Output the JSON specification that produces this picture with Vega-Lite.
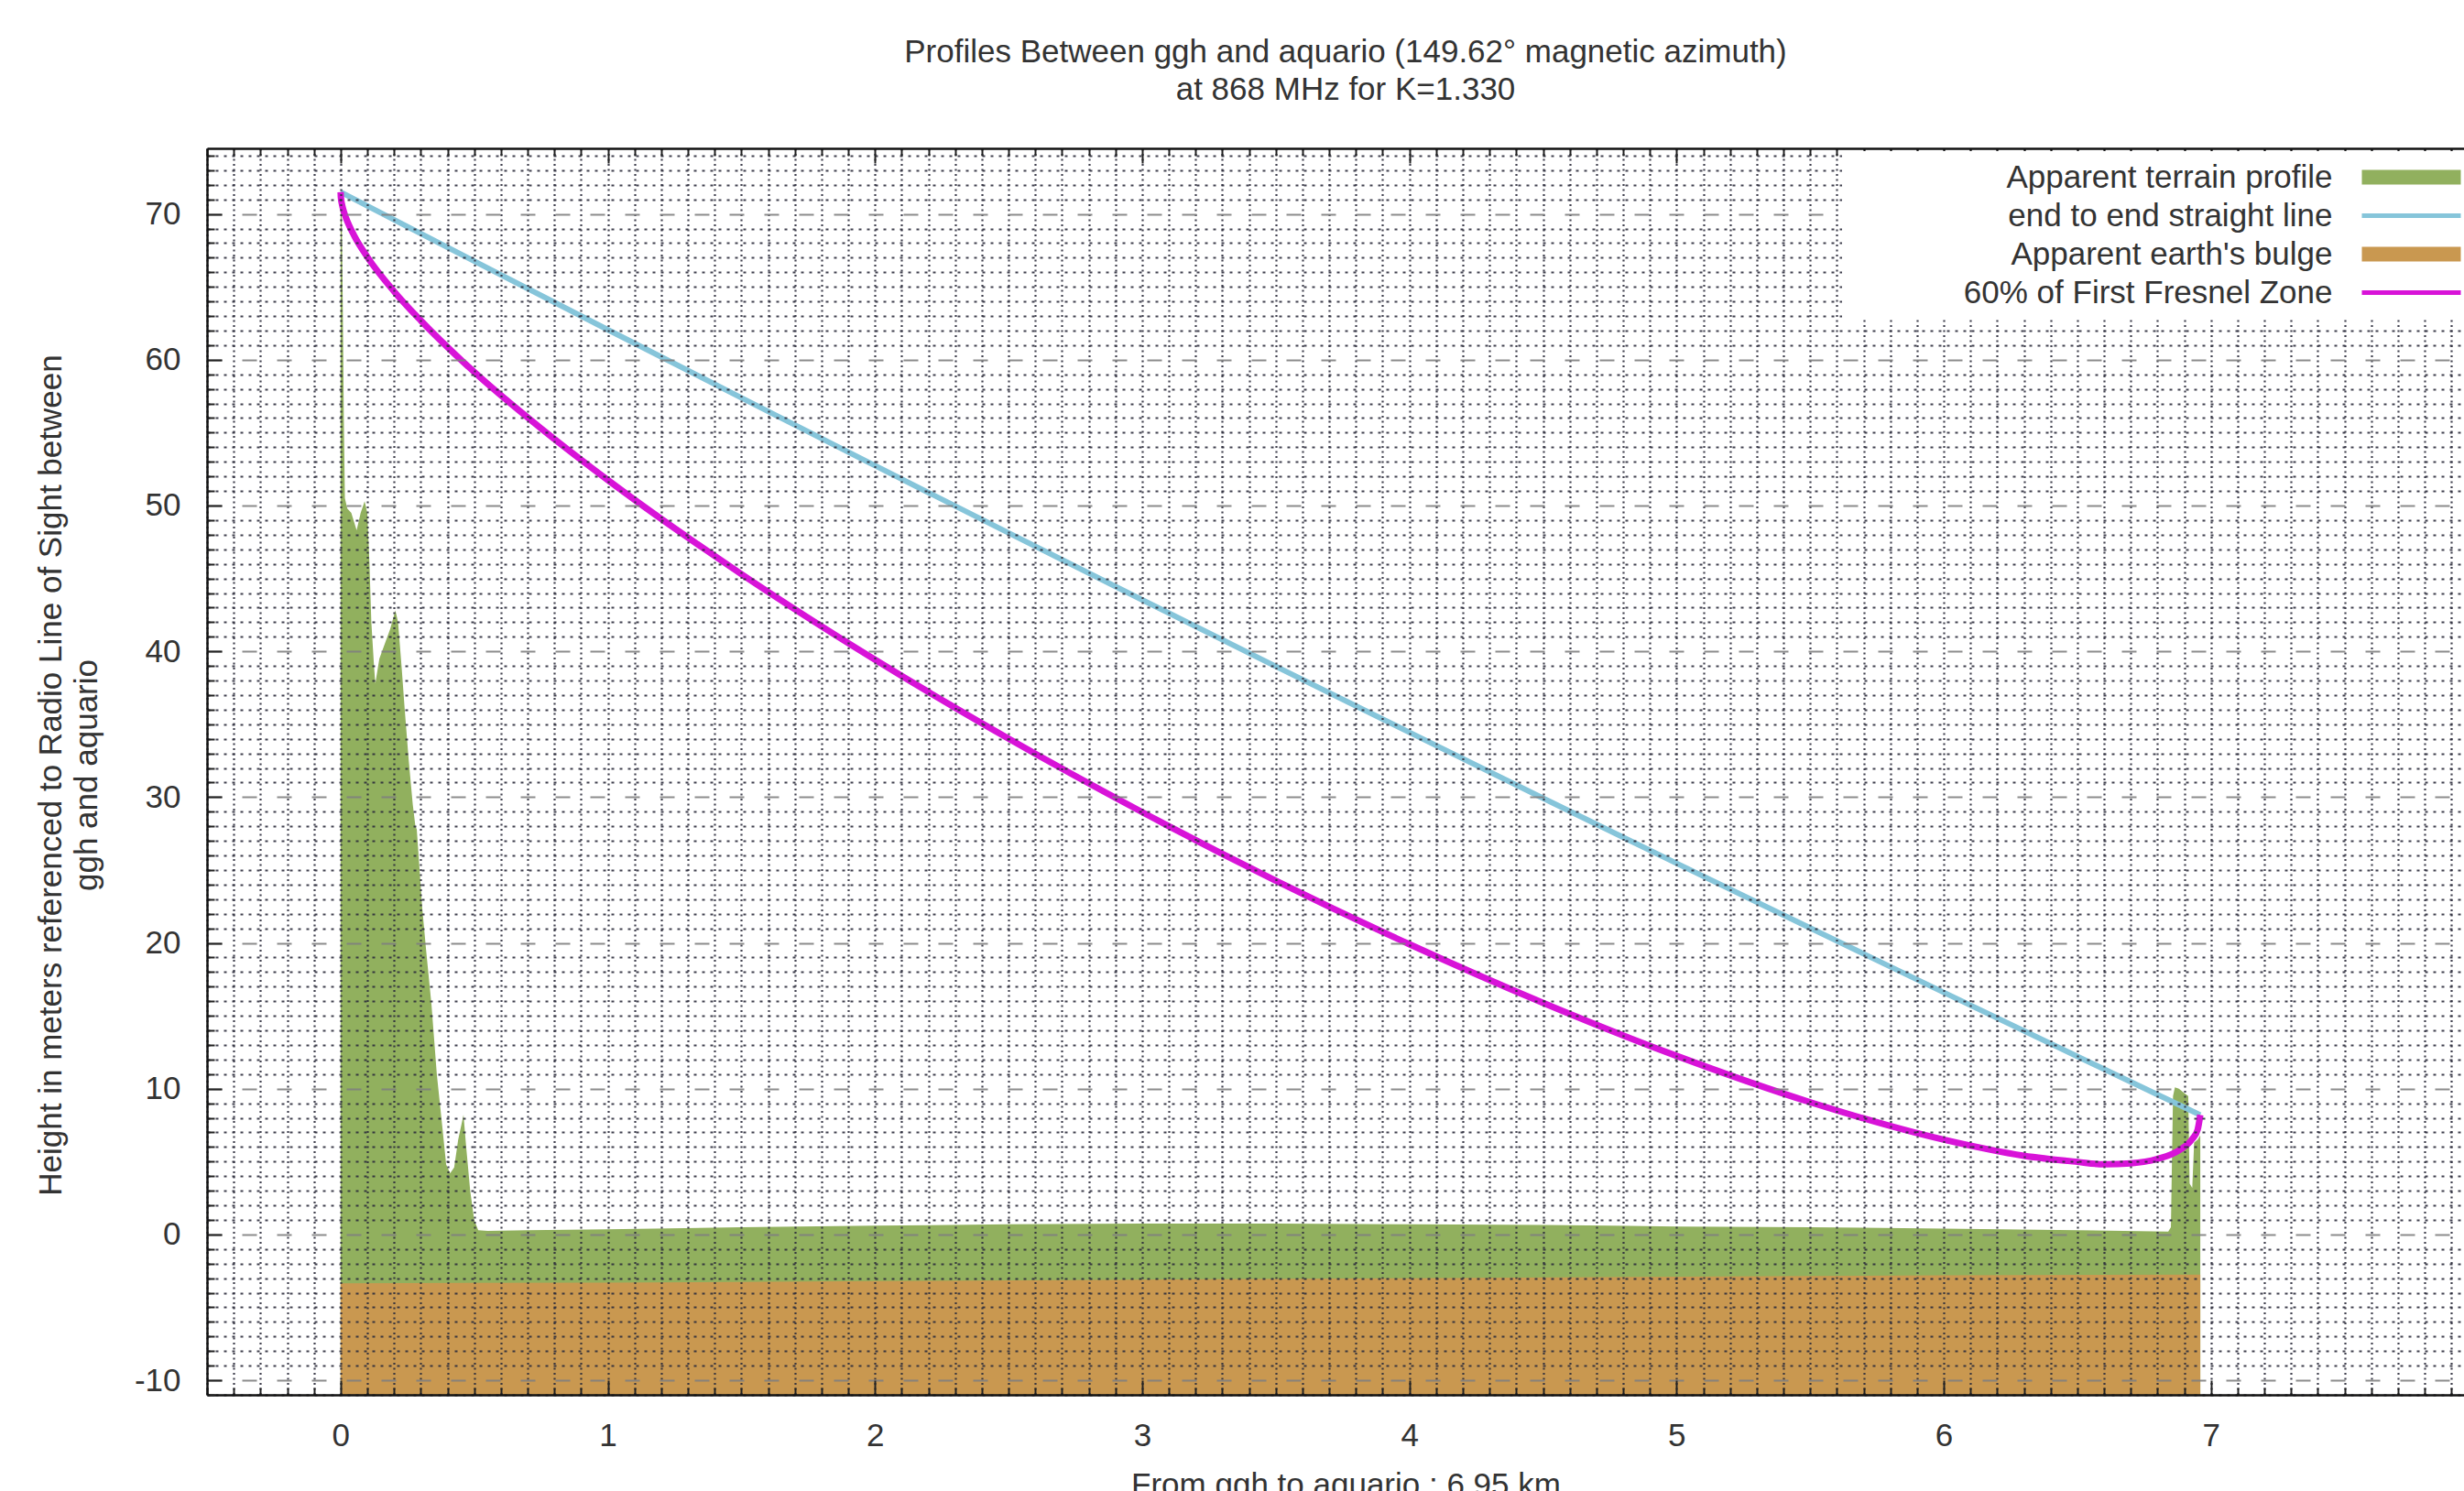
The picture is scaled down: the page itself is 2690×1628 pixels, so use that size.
{
  "$schema": "https://vega.github.io/schema/vega-lite/v6.json",
  "width": 2464,
  "height": 1361,
  "autosize": {"type": "none"},
  "padding": {"left": 226, "top": 162, "right": 0, "bottom": 105},
  "background": "white",
  "config": {"view": {"stroke": null}, "font": "Liberation Sans"},
  "title": {
    "text": ["Profiles Between ggh and aquario (149.62° magnetic azimuth)", "at 868 MHz for K=1.330"],
    "font": "Liberation Sans", "fontSize": 35, "fontWeight": "normal", "color": "#333333",
    "lineHeight": 41, "baseline": "alphabetic", "offset": 9, "anchor": "middle", "dx": 11, "frame": "group"
  },
  "datasets": {
    "terrain": [
      {"d": 0, "h": 71.5}, {"d": 0.004, "h": 70.5}, {"d": 0.008, "h": 64}, {"d": 0.012, "h": 56},
      {"d": 0.016, "h": 50.5}, {"d": 0.025, "h": 49.8}, {"d": 0.04, "h": 49.5}, {"d": 0.06, "h": 48.3},
      {"d": 0.075, "h": 49.5}, {"d": 0.09, "h": 50.3}, {"d": 0.1, "h": 49.5}, {"d": 0.108, "h": 46},
      {"d": 0.115, "h": 42}, {"d": 0.125, "h": 39}, {"d": 0.13, "h": 37.8}, {"d": 0.145, "h": 39.5},
      {"d": 0.165, "h": 40.5}, {"d": 0.185, "h": 41.5}, {"d": 0.205, "h": 42.8}, {"d": 0.215, "h": 42},
      {"d": 0.228, "h": 39}, {"d": 0.24, "h": 36}, {"d": 0.255, "h": 32.5}, {"d": 0.27, "h": 29.5},
      {"d": 0.28, "h": 28}, {"d": 0.285, "h": 27.8}, {"d": 0.29, "h": 26.5}, {"d": 0.305, "h": 22.5},
      {"d": 0.32, "h": 19.5}, {"d": 0.34, "h": 15.8}, {"d": 0.36, "h": 11}, {"d": 0.38, "h": 7.5},
      {"d": 0.395, "h": 4.8}, {"d": 0.41, "h": 4.2}, {"d": 0.425, "h": 4.6}, {"d": 0.44, "h": 6.5},
      {"d": 0.46, "h": 8.2}, {"d": 0.47, "h": 6}, {"d": 0.485, "h": 3}, {"d": 0.5, "h": 1.0},
      {"d": 0.515, "h": 0.3}, {"d": 0.55, "h": 0.25}, {"d": 0.7, "h": 0.3}, {"d": 1.0, "h": 0.35},
      {"d": 1.5, "h": 0.5}, {"d": 2.0, "h": 0.6}, {"d": 2.5, "h": 0.7}, {"d": 3.0, "h": 0.75},
      {"d": 3.5, "h": 0.75}, {"d": 4.0, "h": 0.7}, {"d": 4.5, "h": 0.65}, {"d": 5.0, "h": 0.55},
      {"d": 5.5, "h": 0.5}, {"d": 6.0, "h": 0.4}, {"d": 6.5, "h": 0.3}, {"d": 6.84, "h": 0.2},
      {"d": 6.85, "h": 0.5}, {"d": 6.858, "h": 9.5}, {"d": 6.865, "h": 10.1}, {"d": 6.88, "h": 10.0},
      {"d": 6.9, "h": 9.7}, {"d": 6.915, "h": 9.5}, {"d": 6.92, "h": 3.5}, {"d": 6.93, "h": 3.2},
      {"d": 6.937, "h": 6.3}, {"d": 6.95, "h": 6.5}, {"d": 6.96, "h": 6.8}
    ],
    "bulge": [
      {"d": 0, "h": -3.35}, {"d": 1, "h": -3.3}, {"d": 2, "h": -3.2}, {"d": 3, "h": -3.1},
      {"d": 4, "h": -3.0}, {"d": 5, "h": -2.9}, {"d": 6, "h": -2.8}, {"d": 6.96, "h": -2.75}
    ],
    "los": [
      {"d": 0, "h": 71.5}, {"d": 0.5, "h": 66.76}, {"d": 1, "h": 62.06}, {"d": 1.5, "h": 57.39},
      {"d": 2, "h": 52.74}, {"d": 2.5, "h": 48.12}, {"d": 3, "h": 43.53}, {"d": 3.5, "h": 38.97},
      {"d": 4, "h": 34.44}, {"d": 4.5, "h": 29.93}, {"d": 5, "h": 25.46}, {"d": 5.5, "h": 21.02},
      {"d": 6, "h": 16.6}, {"d": 6.5, "h": 12.21}, {"d": 6.96, "h": 8.2}
    ],
    "fresnel": [
      {"d": 0, "h": 71.5}, {"d": 0.001, "h": 71.14}, {"d": 0.005, "h": 70.67}, {"d": 0.01, "h": 70.29},
      {"d": 0.02, "h": 69.74}, {"d": 0.05, "h": 68.54}, {"d": 0.1, "h": 67.05}, {"d": 0.2, "h": 64.69},
      {"d": 0.3, "h": 62.69}, {"d": 0.5, "h": 59.16}, {"d": 0.75, "h": 55.29}, {"d": 1.0, "h": 51.75},
      {"d": 1.5, "h": 45.3}, {"d": 2.0, "h": 39.43}, {"d": 2.5, "h": 34.01}, {"d": 3.0, "h": 28.97},
      {"d": 3.5, "h": 24.27}, {"d": 4.0, "h": 19.91}, {"d": 4.5, "h": 15.89}, {"d": 5.0, "h": 12.25},
      {"d": 5.5, "h": 9.07}, {"d": 6.0, "h": 6.5}, {"d": 6.3, "h": 5.4}, {"d": 6.5, "h": 4.98},
      {"d": 6.6, "h": 4.81}, {"d": 6.7, "h": 4.88}, {"d": 6.8, "h": 5.19}, {"d": 6.88, "h": 5.77},
      {"d": 6.93, "h": 6.55}, {"d": 6.95, "h": 7.18}, {"d": 6.96, "h": 8.2}
    ]
  },
  "layer": [
    {
      "data": {"name": "terrain"},
      "mark": {"type": "area", "interpolate": "linear"},
      "encoding": {
        "x": {
          "field": "d", "type": "quantitative",
          "scale": {"domain": [-0.5, 7.947], "nice": false, "zero": false},
          "axis": {
            "orient": "bottom",
            "values": [-0.5,-0.4,-0.3,-0.2,-0.1,0,0.1,0.2,0.3,0.4,0.5,0.6,0.7,0.8,0.9,1,1.1,1.2,1.3,1.4,1.5,1.6,1.7,1.8,1.9,2,2.1,2.2,2.3,2.4,2.5,2.6,2.7,2.8,2.9,3,3.1,3.2,3.3,3.4,3.5,3.6,3.7,3.8,3.9,4,4.1,4.2,4.3,4.4,4.5,4.6,4.7,4.8,4.9,5,5.1,5.2,5.3,5.4,5.5,5.6,5.7,5.8,5.9,6,6.1,6.2,6.3,6.4,6.5,6.6,6.7,6.8,6.9,7,7.1,7.2,7.3,7.4,7.5,7.6,7.7,7.8,7.9],
            "labelExpr": "abs(datum.value - round(datum.value)) < 0.001 ? '' + round(datum.value) : ''",
            "labelOverlap": false, "labelFlush": false,
            "labelFont": "Liberation Sans", "labelFontSize": 35, "labelColor": "#333333", "labelPadding": 43,
            "grid": true, "gridColor": "#2c2c3c", "gridDash": [2, 3.5], "gridWidth": 2.2, "gridOpacity": 0.9,
            "ticks": true, "tickColor": "#222222", "tickWidth": 2,
            "tickSize": {"condition": {"test": "abs(datum.value - round(datum.value)) < 0.001", "value": -16}, "value": -8},
            "domain": true, "domainColor": "#111111", "domainWidth": 2.5,
            "title": "From ggh to aquario : 6.95 km",
            "titleFont": "Liberation Sans", "titleFontSize": 35, "titleFontWeight": "normal", "titleColor": "#333333",
            "titleX": 1243, "titleY": 109, "titleBaseline": "alphabetic", "titleAlign": "center",
            "zindex": 1
          }
        },
        "y": {
          "field": "h", "type": "quantitative",
          "scale": {"domain": [-11, 74.5], "nice": false, "zero": false},
          "axis": {
            "orient": "left",
            "values": [-11,-10,-9,-8,-7,-6,-5,-4,-3,-2,-1,0,1,2,3,4,5,6,7,8,9,10,11,12,13,14,15,16,17,18,19,20,21,22,23,24,25,26,27,28,29,30,31,32,33,34,35,36,37,38,39,40,41,42,43,44,45,46,47,48,49,50,51,52,53,54,55,56,57,58,59,60,61,62,63,64,65,66,67,68,69,70,71,72,73,74],
            "labelExpr": "datum.value % 10 === 0 ? '' + datum.value : ''",
            "labelOverlap": false, "labelFlush": false,
            "labelFont": "Liberation Sans", "labelFontSize": 35, "labelColor": "#333333", "labelPadding": 45,
            "grid": true,
            "gridColor": {"condition": {"test": "datum.value % 10 === 0", "value": "#808080"}, "value": "#2c2c3c"},
            "gridDash": {"condition": {"test": "datum.value % 10 === 0", "value": [16, 22]}, "value": [3, 6]},
            "gridWidth": 2.2, "gridOpacity": 0.9,
            "ticks": true, "tickColor": "#222222", "tickWidth": 2,
            "tickSize": {"condition": {"test": "datum.value % 10 === 0", "value": -16}, "value": -8},
            "domain": true, "domainColor": "#111111", "domainWidth": 2.5,
            "title": ["Height in meters referenced to Radio Line of Sight between", "ggh and aquario"],
            "titleFont": "Liberation Sans", "titleFontSize": 35, "titleFontWeight": "normal", "titleColor": "#333333",
            "titleAngle": 270, "titleX": -160, "titleY": 684, "titleBaseline": "alphabetic", "titleAlign": "center",
            "titleLineHeight": 39,
            "zindex": 1
          }
        },
        "y2": {"datum": -11},
        "color": {
          "datum": "Apparent terrain profile", "type": "nominal",
          "scale": {
            "domain": ["Apparent terrain profile", "end to end straight line", "Apparent earth's bulge", "60% of First Fresnel Zone"],
            "range": ["#91b05e", "#86c5da", "#c99850", "#d813d8"]
          },
          "legend": {
            "orient": "none", "legendX": 1785, "legendY": 3, "direction": "vertical",
            "title": "\u00a0", "titleOrient": "left", "titlePadding": 586, "titleFontSize": 35,
            "fillColor": "white", "padding": 11, "rowPadding": 6,
            "labelFont": "Liberation Sans", "labelFontSize": 35, "labelColor": "#333333",
            "labelAlign": "right", "labelOffset": -103.5, "labelLimit": 1000,
            "symbolSize": 729, "symbolOffset": 7, "symbolStrokeWidth": 0,
            "zindex": 2,
            "encode": {
              "symbols": {
                "update": {
                  "shape": {"signal": "(datum.value === 'end to end straight line' || datum.value === '60% of First Fresnel Zone') ? 'M-4,-0.19H4V0.19H-4Z' : 'M-4,-0.6H4V0.6H-4Z'"},
                  "fill": {"scale": "color", "field": "value"},
                  "fillOpacity": {"value": 1},
                  "stroke": {"value": "transparent"}
                }
              }
            }
          }
        }
      }
    },
    {
      "data": {"name": "bulge"},
      "mark": {"type": "area", "interpolate": "linear"},
      "encoding": {
        "x": {
          "field": "d", "type": "quantitative",
          "scale": {"domain": [-0.5, 7.947], "nice": false, "zero": false},
          "axis": {
            "orient": "top",
            "values": [-0.5,-0.4,-0.3,-0.2,-0.1,0,0.1,0.2,0.3,0.4,0.5,0.6,0.7,0.8,0.9,1,1.1,1.2,1.3,1.4,1.5,1.6,1.7,1.8,1.9,2,2.1,2.2,2.3,2.4,2.5,2.6,2.7,2.8,2.9,3,3.1,3.2,3.3,3.4,3.5,3.6,3.7,3.8,3.9,4,4.1,4.2,4.3,4.4,4.5,4.6,4.7,4.8,4.9,5,5.1,5.2,5.3,5.4,5.5,5.6,5.7,5.8,5.9,6,6.1,6.2,6.3,6.4,6.5,6.6,6.7,6.8,6.9,7,7.1,7.2,7.3,7.4,7.5,7.6,7.7,7.8,7.9],
            "labels": false, "grid": false, "title": null,
            "ticks": true, "tickColor": "#222222", "tickWidth": 2,
            "tickSize": {"condition": {"test": "abs(datum.value - round(datum.value)) < 0.001", "value": -16}, "value": -8},
            "domain": true, "domainColor": "#111111", "domainWidth": 2.5,
            "zindex": 1
          }
        },
        "y": {"field": "h", "type": "quantitative", "scale": {"domain": [-11, 74.5], "nice": false, "zero": false}, "axis": null},
        "y2": {"datum": -11},
        "color": {"datum": "Apparent earth's bulge", "type": "nominal"}
      }
    },
    {
      "data": {"name": "los"},
      "mark": {"type": "line", "interpolate": "monotone", "strokeWidth": 6},
      "encoding": {
        "x": {"field": "d", "type": "quantitative", "scale": {"domain": [-0.5, 7.947], "nice": false, "zero": false}, "axis": null},
        "y": {"field": "h", "type": "quantitative", "scale": {"domain": [-11, 74.5], "nice": false, "zero": false}, "axis": null},
        "color": {"datum": "end to end straight line", "type": "nominal"}
      }
    },
    {
      "data": {"name": "fresnel"},
      "mark": {"type": "line", "interpolate": "monotone", "strokeWidth": 7},
      "encoding": {
        "x": {"field": "d", "type": "quantitative", "scale": {"domain": [-0.5, 7.947], "nice": false, "zero": false}, "axis": null},
        "y": {"field": "h", "type": "quantitative", "scale": {"domain": [-11, 74.5], "nice": false, "zero": false}, "axis": null},
        "color": {"datum": "60% of First Fresnel Zone", "type": "nominal"}
      }
    }
  ],
  "resolve": {"axis": {"x": "independent", "y": "independent"}}
}
